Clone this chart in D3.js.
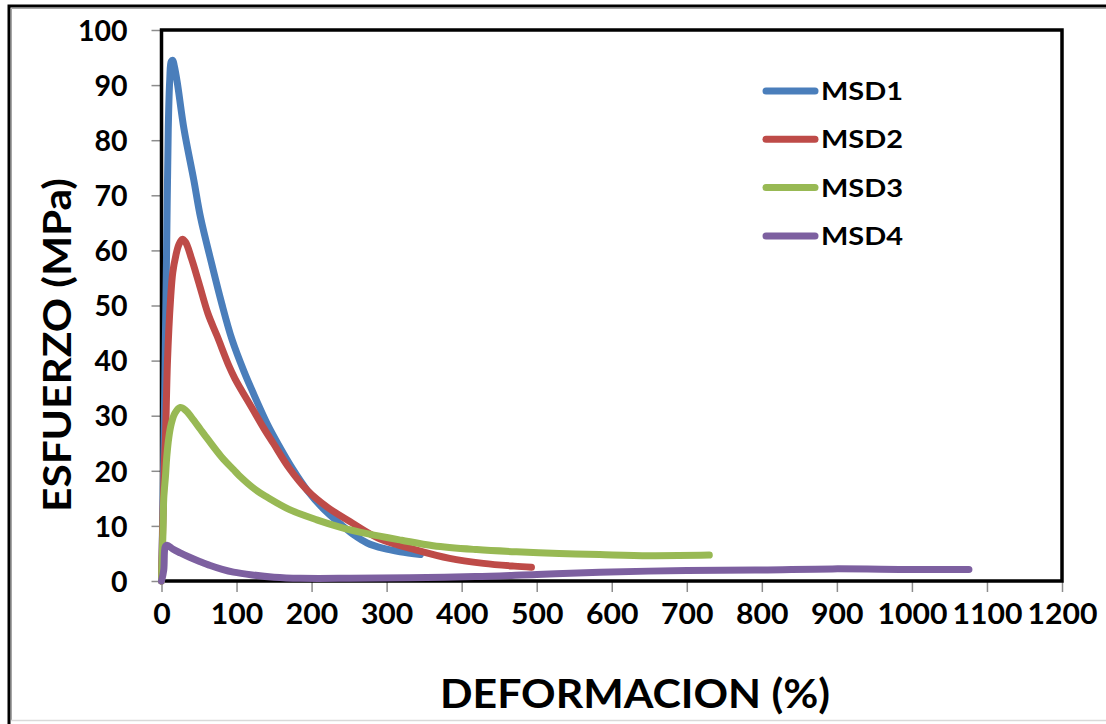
<!DOCTYPE html>
<html><head><meta charset="utf-8">
<script src="https://cdn.jsdelivr.net/npm/d3@7"></script>
<style>html,body{margin:0;padding:0;background:#fff;}svg{display:block;}</style>
</head><body>
<script>
const seriesNames = ["MSD1","MSD2","MSD3","MSD4"];
const seriesColors = ["#4a7ebb","#be4b48","#98b954","#7d60a0"];
const xTicks = [0,100,200,300,400,500,600,700,800,900,1000,1100,1200];
const yTicks = [0,10,20,30,40,50,60,70,80,90,100];
const xTitle = "DEFORMACION (%)";
const yTitle = "ESFUERZO (MPa)";

const msd1 = [[0,0],[3,22],[5,42],[7,62],[9,82],[11,91],[13,94.3],[15,94.5],[17,93.5],[21,90.5],[30,82],[43,72.8],[52,66],[67,57.5],[80,50.5],[94,43.8],[110,38],[121,34.5],[141,28.5],[156,24.7],[175,20.3],[194,16.5],[215,13.2],[238,10.4],[256,8.4],[274,6.9],[296,5.9],[318,5.3],[345,4.8]];
const msd2 = [[0,0],[2,12],[4,22],[5.3,26],[8,40],[12,51],[15,56],[19,59],[23,61],[27.5,62],[32,61.5],[40,58.5],[50,54],[62,48.5],[74,44.5],[90,39],[98,36.7],[121,31.3],[136,27.8],[149,25],[170,20.5],[194,16.5],[222,13.3],[251,10.8],[290,7.7],[340,5.6],[384,4.1],[429,3.2],[470,2.7],[493,2.5]];
const msd3 = [[0,0],[2,9],[3,15],[5.3,19],[7,22.5],[9.7,26],[13,28.5],[18,30.5],[25,31.5],[32,31],[40,29.7],[52,27.5],[58,26.4],[80,22.5],[96,20.2],[103,19.2],[125,16.6],[141,15.2],[170,13],[207,11.1],[240,9.7],[274,8.6],[320,7.4],[362,6.4],[420,5.7],[473,5.3],[530,5.0],[584,4.8],[650,4.6],[730,4.7]];
const msd4 = [[0,0],[3,2],[5,6.2],[7.5,6.5],[15,5.8],[25,5.1],[36,4.4],[50,3.6],[65,2.8],[81,2.1],[96,1.6],[121,1.1],[150,0.7],[185,0.5],[251,0.5],[330,0.6],[418,0.8],[500,1.2],[584,1.6],[700,1.9],[800,2.0],[894,2.2],[1000,2.1],[1076,2.1]];
const seriesData = [msd1,msd2,msd3,msd4];

const W = 1106, H = 724;
const svg = d3.select("body").append("svg").attr("width",W).attr("height",H);

// outer frame
svg.append("rect").attr("x",0).attr("y",0).attr("width",W).attr("height",H).attr("fill","#fff");
svg.append("path").attr("d","M9,724 V6 H1106").attr("fill","none").attr("stroke","#000").attr("stroke-width",3);
svg.append("path").attr("d","M11.5,720 V8.5 H1106").attr("fill","none").attr("stroke","#a6a6a6").attr("stroke-width",1);
svg.append("line").attr("x1",11).attr("x2",1106).attr("y1",720.5).attr("y2",720.5).attr("stroke","#d9d9d9").attr("stroke-width",1.5);

const x = d3.scaleLinear().domain([0,1200]).range([161.5,1062]);
const y = d3.scaleLinear().domain([0,100]).range([581,30]);

const font = "Lato, 'Open Sans', sans-serif";

// ticks
const yAxis = d3.axisLeft(y).tickValues(yTicks).tickSize(10).tickPadding(24).tickFormat(d3.format("d"));
const gy = svg.append("g").attr("transform",`translate(${x(0)},0)`).call(yAxis);
gy.select(".domain").remove();
gy.selectAll(".tick line").attr("stroke","#8c8c8c").attr("stroke-width",1.5);
gy.selectAll(".tick text").attr("font-family",font).attr("font-weight","bold").attr("font-size",28.5).attr("fill","#000").attr("dy","0.36em");

const xAxis = d3.axisBottom(x).tickValues(xTicks).tickSize(11).tickPadding(12).tickFormat(d3.format("d"));
const gx = svg.append("g").attr("transform",`translate(0,${y(0)})`).call(xAxis);
gx.select(".domain").remove();
gx.selectAll(".tick line").attr("stroke","#8c8c8c").attr("stroke-width",1.5);
gx.selectAll(".tick text").attr("font-family",font).attr("font-weight","bold").attr("font-size",28).attr("fill","#000")
  .attr("textLength", d => String(d).length*17.5).attr("lengthAdjust","spacingAndGlyphs");

// plot border
svg.append("rect").attr("x",x(0)).attr("y",y(100)).attr("width",x(1200)-x(0)).attr("height",y(0)-y(100))
  .attr("fill","none").attr("stroke","#000").attr("stroke-width",3.5);

// lines
const line = d3.line().x(d=>x(d[0])).y(d=>y(d[1])).curve(d3.curveCatmullRom.alpha(0.5));
seriesData.forEach((s,i)=>{
  svg.append("path").datum(s).attr("d",line).attr("fill","none").attr("stroke",seriesColors[i])
    .attr("stroke-width",7).attr("stroke-linecap","round").attr("stroke-linejoin","round");
});

// legend
const lg = svg.append("g");
seriesNames.forEach((n,i)=>{
  const ly = 91 + i*48.3;
  lg.append("line").attr("x1",766).attr("x2",815).attr("y1",ly).attr("y2",ly)
    .attr("stroke",seriesColors[i]).attr("stroke-width",7).attr("stroke-linecap","round");
  lg.append("text").attr("x",821).attr("y",ly+9).text(n)
    .attr("font-family",font).attr("font-weight","bold").attr("font-size",25).attr("fill","#000")
    .attr("textLength",82).attr("lengthAdjust","spacingAndGlyphs");
});

// axis titles
svg.append("text").attr("x",635).attr("y",708).attr("text-anchor","middle").text(xTitle)
  .attr("font-family",font).attr("font-weight","bold").attr("font-size",40).attr("fill","#000")
  .attr("textLength",390).attr("lengthAdjust","spacingAndGlyphs");
svg.append("text").attr("transform","translate(71,345) rotate(-90)").attr("text-anchor","middle").text(yTitle)
  .attr("font-family",font).attr("font-weight","bold").attr("font-size",38).attr("fill","#000")
  .attr("textLength",334).attr("lengthAdjust","spacingAndGlyphs");
</script>
</body></html>
